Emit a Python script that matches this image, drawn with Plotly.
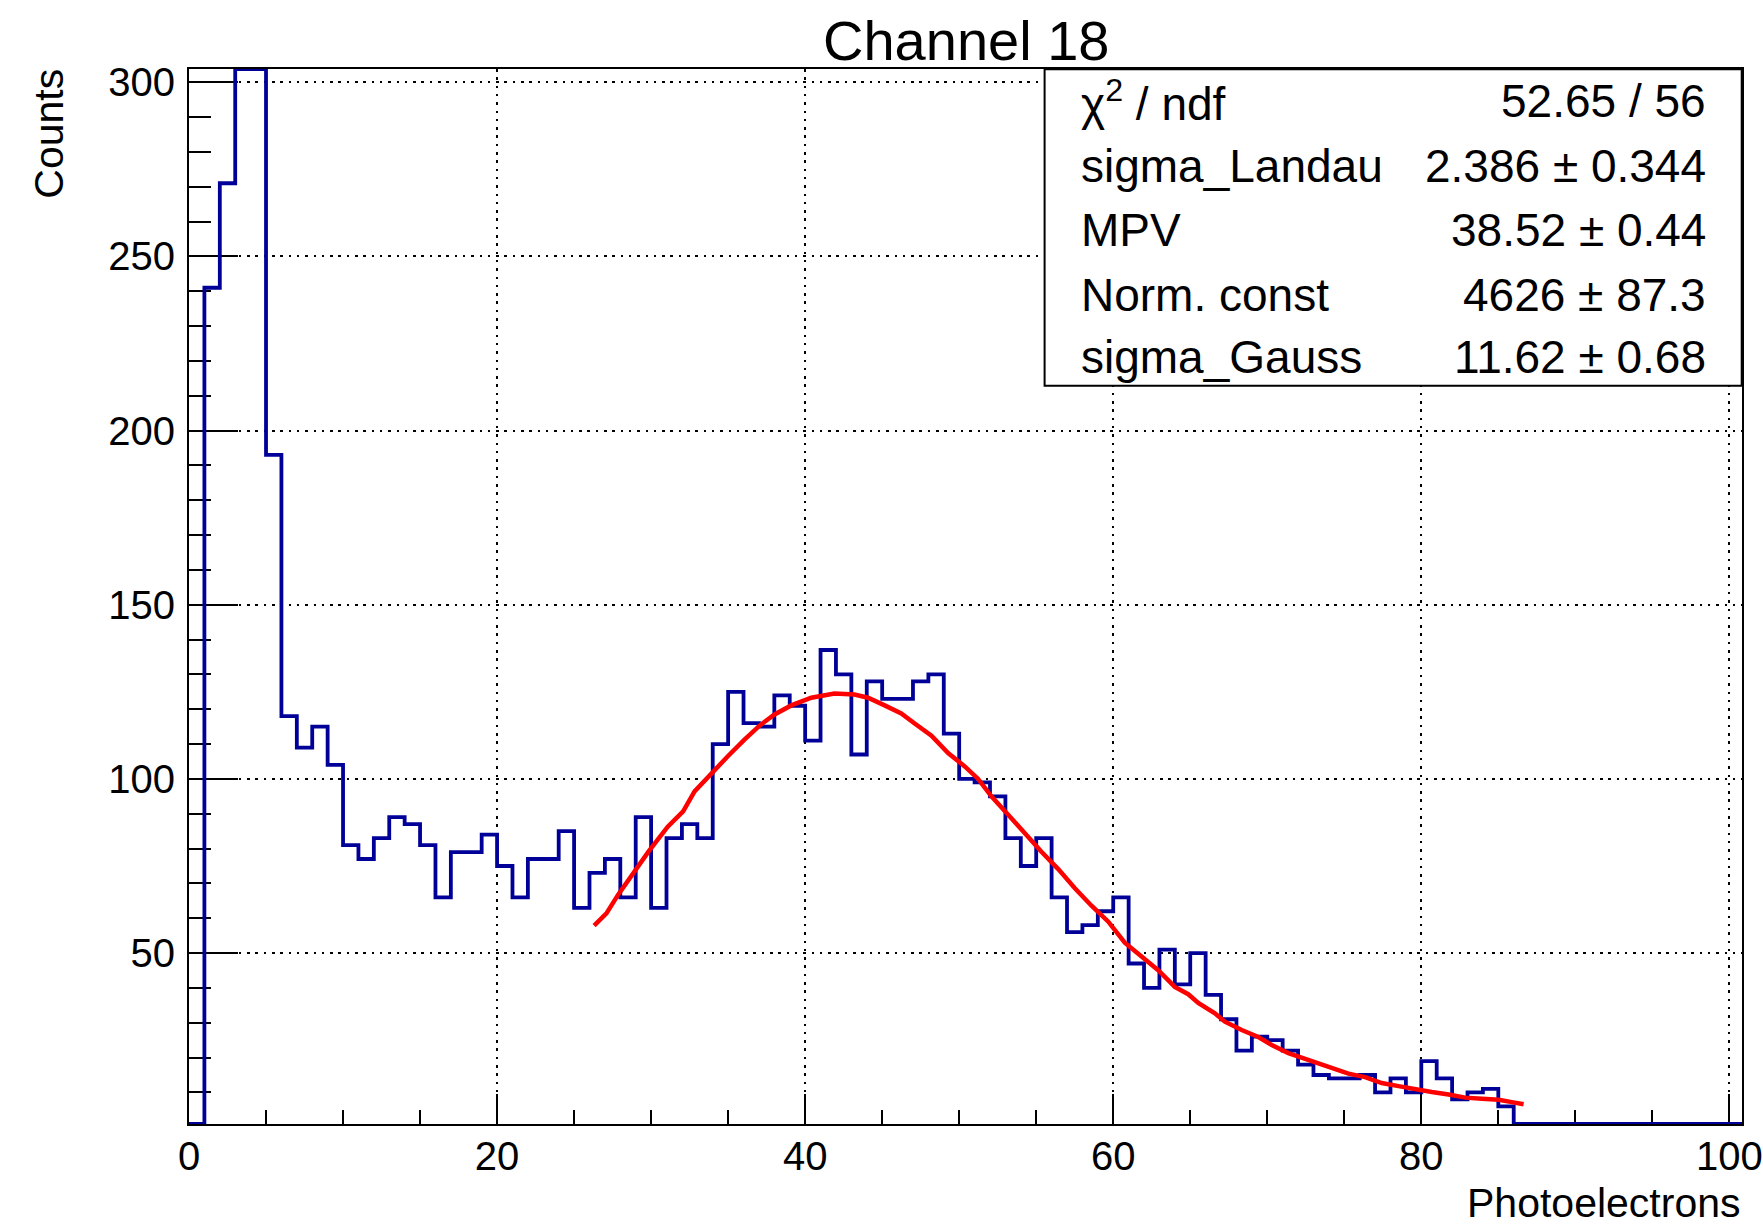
import numpy as np
import plotly.graph_objects as go

# ---------------- data ----------------
bin_width = 1.0
x_start = 0.0
counts = [0, 241, 271, 320, 315, 193, 118, 109, 115, 104,
          81, 77, 83, 89, 87, 81, 66, 79, 79, 84,
          75, 66, 77, 77, 85, 63, 73, 77, 66, 89,
          63, 83, 87, 83, 110, 125, 116, 115, 124, 121,
          111, 137, 130, 107, 128, 123, 123, 128, 130, 113,
          100, 99, 95, 83, 75, 83, 66, 56, 58, 62,
          66, 47, 40, 51, 41, 50, 38, 31, 22, 26,
          25, 22, 18, 15, 14, 14, 15, 10, 14, 10,
          19, 14, 8, 10, 11, 6, 0, 0, 0, 0,
          0, 0, 0, 0, 0, 0, 0, 0, 0, 0, 0]

fit_x = [26.3, 27.1, 27.85, 28.84, 29.84, 31.08, 32.08, 32.82, 33.92, 34.98,
         36.06, 37.04, 38.01, 39.1, 40.4, 41.9, 43.2, 44.08, 45.16, 46.24,
         47.11, 48.2, 49.28, 50.36, 51.23, 52.09, 53.18, 54.26, 55.34, 56.43,
         57.51, 58.59, 59.68, 60.75, 61.84, 62.92, 64.0, 64.87, 65.52, 66.6,
         67.25, 68.34, 69.42, 70.29, 71.37, 72.45, 73.32, 74.18, 75.27, 76.35,
         77.43, 78.52, 79.6, 80.68, 81.77, 82.85, 83.93, 85.02, 85.88, 86.64]
fit_y = [57.9, 61.4, 66.7, 72.9, 79.2, 86.3, 90.7, 96.4, 101.7, 106.5,
         111.3, 115.3, 118.5, 121.1, 123.3, 124.5, 124.2, 123.3, 121.1, 118.8,
         115.9, 112.4, 107.4, 103.6, 100.0, 95.0, 89.7, 84.2, 79.1, 74.1,
         68.6, 63.6, 59.0, 53.0, 49.1, 45.1, 40.3, 38.2, 35.7, 32.7,
         30.3, 27.9, 25.9, 23.6, 21.3, 19.7, 18.5, 16.9, 15.4, 14.4,
         12.7, 11.8, 10.8, 10.1, 9.4, 8.5, 8.2, 7.9, 7.2, 6.6]

stat_labels = ["\u03c7<sup>2</sup> / ndf", "sigma_Landau", "MPV", "Norm. const", "sigma_Gauss"]
stat_values = ["52.65 / 56", "2.386 \u00b1 0.344", "38.52 \u00b1 0.44",
               "4626 \u00b1 87.3", "11.62 \u00b1 0.68"]

title_text = "Channel 18"
x_title = "Photoelectrons"
y_title = "Counts"
x_range = [0, 100.82]
y_range = [0.93, 303.8]

# ---------------- figure ----------------
W, H = 1763, 1224
L, R, T, B = 189, 21, 69, 100
pw, ph = W - L - R, H - T - B

def px_to_paper_x(px):
    return (px - L) / pw

def px_to_paper_y(py):
    return (H - B - py) / ph

FONT = "Liberation Sans"
BLUE = "#000099"

vals = np.asarray(counts, dtype=float)
edges = x_start + bin_width * np.arange(len(vals) + 1)
# ROOT draws out-of-frame contents on the frame edge
draw_vals = np.clip(vals, y_range[0], y_range[1])
step_y = np.append(draw_vals, draw_vals[-1])

fig = go.Figure()
fig.add_trace(go.Scatter(x=edges, y=step_y, mode="lines",
                         line=dict(shape="hv", color=BLUE, width=3.8),
                         hoverinfo="skip", showlegend=False))
fig.add_trace(go.Scatter(x=fit_x, y=fit_y, mode="lines",
                         line=dict(color="#ff0000", width=4.5),
                         hoverinfo="skip", showlegend=False))

grid_dash = "2.5px,5.8px"
fig.update_xaxes(range=x_range, showline=True, linecolor="black", linewidth=2, mirror=True,
                 ticks="inside", ticklen=30, tickwidth=2, tickcolor="black",
                 tick0=0, dtick=20, showgrid=True, gridcolor="black", gridwidth=2,
                 griddash=grid_dash, zeroline=False, layer="below traces",
                 automargin=False,
                 tickfont=dict(family=FONT, size=40, color="black"),
                 ticklabelstandoff=-4,
                 minor=dict(ticks="inside", ticklen=14, tickwidth=2, tickcolor="black",
                            tick0=0, dtick=5, showgrid=False))
fig.update_yaxes(range=y_range, showline=True, linecolor="black", linewidth=2, mirror=True,
                 ticks="inside", ticklen=49, tickwidth=2, tickcolor="black",
                 tick0=0, dtick=50, showgrid=True, gridcolor="black", gridwidth=2,
                 griddash=grid_dash, zeroline=False, layer="below traces",
                 automargin=False,
                 tickfont=dict(family=FONT, size=40, color="black"),
                 ticklabelstandoff=4,
                 minor=dict(ticks="inside", ticklen=22, tickwidth=2, tickcolor="black",
                            tick0=0, dtick=10, showgrid=False))

# stats box
box_l, box_r, box_t, box_b = 1044.6, 1741.7, 69.3, 385.7
fig.add_shape(type="rect", xref="paper", yref="paper",
              x0=px_to_paper_x(box_l), x1=px_to_paper_x(box_r),
              y0=px_to_paper_y(box_b), y1=px_to_paper_y(box_t),
              line=dict(color="black", width=2), fillcolor="white", layer="above")

row_y = [100.5, 165.5, 230.5, 294.5, 356.5]
annotations = []
for lab, val, ry in zip(stat_labels, stat_values, row_y):
    annotations.append(dict(text=lab, xref="paper", yref="paper",
                            x=px_to_paper_x(1079), y=px_to_paper_y(ry),
                            xanchor="left", yanchor="middle", showarrow=False,
                            font=dict(family=FONT, size=46, color="black")))
    annotations.append(dict(text=val, xref="paper", yref="paper",
                            x=px_to_paper_x(1708), y=px_to_paper_y(ry),
                            xanchor="right", yanchor="middle", showarrow=False,
                            font=dict(family=FONT, size=46, color="black")))

annotations.append(dict(text=title_text, xref="paper", yref="paper",
                        x=px_to_paper_x(965.5), y=px_to_paper_y(41),
                        xanchor="center", yanchor="middle", showarrow=False,
                        font=dict(family=FONT, size=56, color="black")))
annotations.append(dict(text=x_title, xref="paper", yref="paper",
                        x=px_to_paper_x(1743), y=px_to_paper_y(1203),
                        xanchor="right", yanchor="middle", showarrow=False,
                        font=dict(family=FONT, size=41, color="black")))
annotations.append(dict(text=y_title, xref="paper", yref="paper",
                        x=px_to_paper_x(48.7), y=px_to_paper_y(67),
                        xanchor="center", yanchor="top", textangle=-90, showarrow=False,
                        font=dict(family=FONT, size=41, color="black")))

fig.update_layout(width=W, height=H, margin=dict(l=L, r=R, t=T, b=B, autoexpand=False),
                  paper_bgcolor="white", plot_bgcolor="white",
                  annotations=annotations, showlegend=False)

fig.write_html("out.html", config={"displayModeBar": False})
